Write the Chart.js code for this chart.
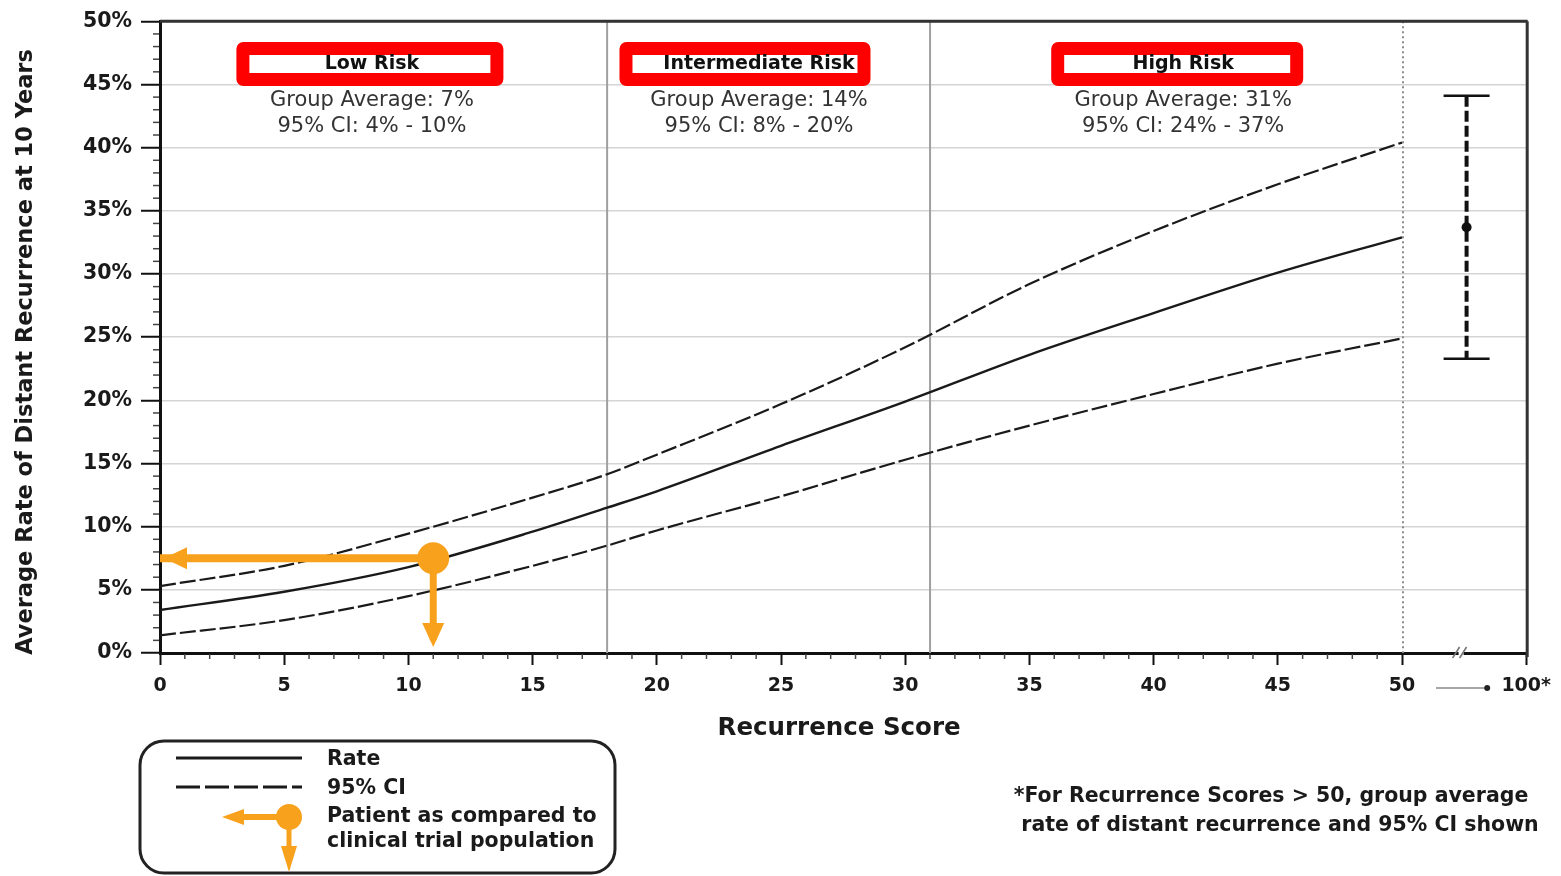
<!DOCTYPE html>
<html>
<head>
<meta charset="utf-8">
<script src="https://cdn.jsdelivr.net/npm/chart.js@4.4.1/dist/chart.umd.min.js"></script>
<style>
  html, body { margin: 0; padding: 0; background: #fff; overflow: hidden; }
  #wrap { width: 1561px; height: 876px; position: relative; }
</style>
</head>
<body>
<div id="wrap"><canvas id="c" width="1561" height="876"></canvas></div>
<script>
// Recurrence Score vs. average rate of distant recurrence at 10 years
const scores  = [0, 5, 10, 15, 18, 20, 25, 30, 35, 40, 45, 50];
const rate    = [3.4, 4.85, 6.8, 9.6, 11.5, 12.8, 16.4, 19.9, 23.6, 26.9, 30.1, 32.9];
const ciUpper = [5.3, 6.9, 9.45, 12.3, 14.15, 15.7, 19.7, 24.2, 29.2, 33.4, 37.1, 40.4];
const ciLower = [1.4, 2.6, 4.5, 6.9, 8.5, 9.7, 12.4, 15.3, 18.0, 20.5, 22.9, 24.9];

// Risk groups and their cut-off scores
const riskGroups   = ['Low Risk', 'Intermediate Risk', 'High Risk'];
const groupAverage = [7, 14, 31];
const groupCiLow   = [4, 8, 24];
const groupCiHigh  = [10, 20, 37];
const riskCutoffs  = [18, 31];

// Scores above 50: group average and 95% CI
const over50Avg  = 33.7;
const over50Low  = 23.3;
const over50High = 44.1;

// Patient result
const patientScore = 11;
const patientRate  = 7.5;

// Axis ticks
const xTickValues = [0, 5, 10, 15, 20, 25, 30, 35, 40, 45, 50, 55];
const xTickLabels = ['0', '5', '10', '15', '20', '25', '30', '35', '40', '45', '50', '100*'];
const yTickValues = [0, 5, 10, 15, 20, 25, 30, 35, 40, 45, 50];
const yTickLabels = ['0%', '5%', '10%', '15%', '20%', '25%', '30%', '35%', '40%', '45%', '50%'];

// The "> 50" group sits in the broken segment between 50 and 100*
const X_MAX = 55;
const OVER50_POS = 52.6;

const FONT = "'DejaVu Sans', 'Liberation Sans', Arial, sans-serif";
const INK = '#1a1a1a';
const ORANGE = '#f8a11c';
const CI_DASH = [16, 4];

const pts = ys => scores.map((s, i) => ({ x: s, y: ys[i] }));

const datasets = [
  { label: 'Patient', data: [{ x: patientScore, y: patientRate }], showLine: false,
    pointRadius: 16, pointHoverRadius: 16, pointBackgroundColor: ORANGE, pointBorderWidth: 0 },
  { label: 'Patient rate', data: [{ x: 0, y: patientRate }, { x: patientScore, y: patientRate }],
    borderColor: ORANGE, borderWidth: 8, pointRadius: 0, borderCapStyle: 'butt' },
  { label: 'Patient score', data: [{ x: patientScore, y: patientRate }, { x: patientScore, y: 1 }],
    borderColor: ORANGE, borderWidth: 7, pointRadius: 0, borderCapStyle: 'butt' },
  { label: 'Score > 50', data: [{ x: OVER50_POS, y: over50Avg }], showLine: false,
    pointRadius: 5, pointHoverRadius: 5, pointBackgroundColor: '#111', pointBorderWidth: 0 },
  { label: 'Rate', data: pts(rate), borderColor: INK, borderWidth: 2.4, pointRadius: 0,
    cubicInterpolationMode: 'monotone' },
  { label: '95% CI upper', data: pts(ciUpper), borderColor: INK, borderWidth: 2.2, borderDash: CI_DASH,
    pointRadius: 0, cubicInterpolationMode: 'monotone' },
  { label: '95% CI lower', data: pts(ciLower), borderColor: INK, borderWidth: 2.2, borderDash: CI_DASH,
    pointRadius: 0, cubicInterpolationMode: 'monotone' }
];

function line(ctx, x1, y1, x2, y2) {
  ctx.beginPath(); ctx.moveTo(x1, y1); ctx.lineTo(x2, y2); ctx.stroke();
}
function poly(ctx, p) {
  ctx.beginPath(); ctx.moveTo(p[0][0], p[0][1]);
  for (let i = 1; i < p.length; i++) ctx.lineTo(p[i][0], p[i][1]);
  ctx.closePath(); ctx.fill();
}
function roundRect(ctx, x, y, w, h, r) {
  ctx.beginPath(); ctx.roundRect(x, y, w, h, r);
}

// Group label boxes (centre in score units, box width in px, text nudge in px)
const groupBoxes = [
  { center: 8.45, width: 267, nudge: 2 },
  { center: 23.55, width: 251, nudge: 14 },
  { center: 40.95, width: 252, nudge: 6 }
];

const decor = {
  id: 'decor',
  beforeDatasetsDraw(chart) {
    const { ctx, chartArea: a, scales: { x } } = chart;
    ctx.save();
    // risk group dividers
    ctx.strokeStyle = '#a0a0a0';
    ctx.lineWidth = 2;
    riskCutoffs.forEach(c => {
      const px = x.getPixelForValue(c);
      line(ctx, px, a.top, px, a.bottom);
    });
    // end of the continuous score range
    ctx.strokeStyle = '#8c8c8c';
    ctx.setLineDash([2, 3]);
    const p50 = x.getPixelForValue(50) + 1;
    line(ctx, p50, a.top, p50, a.bottom);
    ctx.restore();
  },
  afterDatasetsDraw(chart) {
    const { ctx, chartArea: a, scales: { x, y } } = chart;
    ctx.save();
    // patient arrow heads
    ctx.fillStyle = ORANGE;
    const py = y.getPixelForValue(patientRate);
    const px = x.getPixelForValue(patientScore);
    poly(ctx, [[a.left + 4, py], [a.left + 27, py - 11], [a.left + 27, py + 11]]);
    poly(ctx, [[px, a.bottom - 6], [px - 11, a.bottom - 30], [px + 11, a.bottom - 30]]);

    // > 50 group error bar
    const ex = x.getPixelForValue(OVER50_POS);
    const et = y.getPixelForValue(over50High);
    const eb = y.getPixelForValue(over50Low);
    ctx.strokeStyle = '#111';
    ctx.lineWidth = 4;
    ctx.setLineDash([11, 4]);
    line(ctx, ex, et, ex, eb);
    ctx.setLineDash([]);
    ctx.lineWidth = 2.5;
    line(ctx, ex - 23, et, ex + 23, et);
    line(ctx, ex - 23, eb, ex + 23, eb);
    ctx.restore();
  },
  afterDraw(chart) {
    const { ctx, chartArea: a, scales: { x, y } } = chart;
    ctx.save();

    // frame: top and right edges
    ctx.strokeStyle = '#333';
    ctx.lineWidth = 3;
    line(ctx, a.left, a.top, a.right + 1.5, a.top);
    line(ctx, a.right + 1, a.top, a.right + 1, a.bottom + 4);

    // minor ticks
    ctx.strokeStyle = '#444';
    ctx.lineWidth = 1.5;
    for (let v = 1; v < 50; v++) {
      if (v % 5 === 0) continue;
      const ty = y.getPixelForValue(v);
      line(ctx, a.left - 7, ty, a.left - 1, ty);
      const tx = x.getPixelForValue(v);
      line(ctx, tx, a.bottom + 1, tx, a.bottom + 6);
    }

    // axis break between 50 and 100*
    const bx = x.getPixelForValue(OVER50_POS) - 6;
    ctx.fillStyle = '#fff';
    ctx.fillRect(bx - 2, a.bottom - 3, 5, 6);
    ctx.strokeStyle = '#777';
    ctx.lineWidth = 1.6;
    line(ctx, bx - 8, a.bottom + 5, bx - 1, a.bottom - 6);
    line(ctx, bx - 1, a.bottom + 5, bx + 6, a.bottom - 6);

    // arrow from 50 towards 100*
    const ay = a.bottom + 35;
    ctx.strokeStyle = '#888';
    ctx.lineWidth = 1.6;
    line(ctx, x.getPixelForValue(50) + 34, ay, x.getPixelForValue(X_MAX) - 40, ay);
    ctx.fillStyle = '#222';
    ctx.beginPath(); ctx.arc(x.getPixelForValue(X_MAX) - 39, ay, 3, 0, Math.PI * 2); ctx.fill();

    // risk group boxes and summaries
    ctx.textAlign = 'center';
    ctx.textBaseline = 'middle';
    groupBoxes.forEach((b, i) => {
      const cx = x.getPixelForValue(b.center);
      const left = cx - b.width / 2;
      ctx.fillStyle = '#ff0000';
      roundRect(ctx, left, 42, b.width, 44, 7); ctx.fill();
      ctx.fillStyle = '#fff';
      ctx.fillRect(left + 13, 55, b.width - 26, 18);
      ctx.fillStyle = '#111';
      ctx.font = `bold 19px ${FONT}`;
      ctx.fillText(riskGroups[i], cx + b.nudge, 64);
      ctx.fillStyle = '#333';
      ctx.font = `21px ${FONT}`;
      ctx.fillText(`Group Average: ${groupAverage[i]}%`, cx + b.nudge, 101);
      ctx.fillText(`95% CI: ${groupCiLow[i]}% - ${groupCiHigh[i]}%`, cx + b.nudge, 127);
    });

    // axis titles
    ctx.fillStyle = INK;
    ctx.font = `bold 24.5px ${FONT}`;
    ctx.fillText('Recurrence Score', (a.left + a.right) / 2 - 4, 729);
    ctx.save();
    ctx.translate(26, 352);
    ctx.rotate(-Math.PI / 2);
    ctx.font = `bold 22.5px ${FONT}`;
    ctx.fillText('Average Rate of Distant Recurrence at 10 Years', 0, 0);
    ctx.restore();

    // legend
    ctx.strokeStyle = '#222';
    ctx.lineWidth = 3;
    roundRect(ctx, 140, 741, 475, 132, 24); ctx.stroke();
    ctx.strokeStyle = INK;
    ctx.lineWidth = 3;
    line(ctx, 176, 758, 302, 758);
    ctx.setLineDash([24, 5]);
    line(ctx, 176, 787, 302, 787);
    ctx.setLineDash([]);
    ctx.strokeStyle = ORANGE;
    ctx.fillStyle = ORANGE;
    ctx.lineWidth = 6;
    line(ctx, 240, 817, 289, 817);
    poly(ctx, [[222, 817], [244, 809], [244, 825]]);
    ctx.lineWidth = 5;
    line(ctx, 289, 817, 289, 850);
    poly(ctx, [[289, 872], [281, 846], [297, 846]]);
    ctx.beginPath(); ctx.arc(289, 817, 13, 0, Math.PI * 2); ctx.fill();

    ctx.fillStyle = INK;
    ctx.textAlign = 'left';
    ctx.font = `bold 20.5px ${FONT}`;
    ctx.fillText('Rate', 327, 760);
    ctx.fillText('95% CI', 327, 789);
    ctx.fillText('Patient as compared to', 327, 817);
    ctx.fillText('clinical trial population', 327, 842);

    // footnote
    ctx.textAlign = 'center';
    ctx.font = `bold 20.5px ${FONT}`;
    ctx.fillText('*For Recurrence Scores > 50, group average', 1271, 797);
    ctx.fillText('rate of distant recurrence and 95% CI shown', 1280, 826);

    ctx.restore();
  }
};

new Chart(document.getElementById('c'), {
  type: 'line',
  data: { datasets },
  options: {
    responsive: false,
    animation: false,
    devicePixelRatio: 1,
    layout: { padding: { top: 20, right: 33, bottom: 163, left: 0 } },
    plugins: { legend: { display: false }, tooltip: { enabled: false } },
    events: [],
    scales: {
      x: {
        type: 'linear', min: 0, max: X_MAX,
        afterFit(s) { s.height = 60; },
        afterBuildTicks(s) { s.ticks = xTickValues.map(v => ({ value: v })); },
        ticks: {
          callback: v => xTickLabels[xTickValues.indexOf(v)],
          font: { family: FONT, size: 19, weight: 'bold' }, color: INK,
          padding: 10, maxRotation: 0, autoSkip: false
        },
        grid: { drawOnChartArea: false, drawTicks: true, tickLength: 12, tickColor: '#111', tickWidth: 2 },
        border: { color: '#111', width: 3 }
      },
      y: {
        type: 'linear', min: 0, max: 50,
        afterFit(s) { s.width = 160; },
        afterBuildTicks(s) { s.ticks = yTickValues.map(v => ({ value: v })); },
        ticks: {
          callback: v => yTickLabels[yTickValues.indexOf(v)],
          font: { family: FONT, size: 20.5, weight: 'bold' }, color: INK, padding: 9
        },
        grid: { color: '#d4d4d4', lineWidth: 1.5, tickColor: '#111', tickLength: 19, tickWidth: 2 },
        border: { color: '#111', width: 3 }
      }
    }
  },
  plugins: [decor]
});
</script>
</body>
</html>
